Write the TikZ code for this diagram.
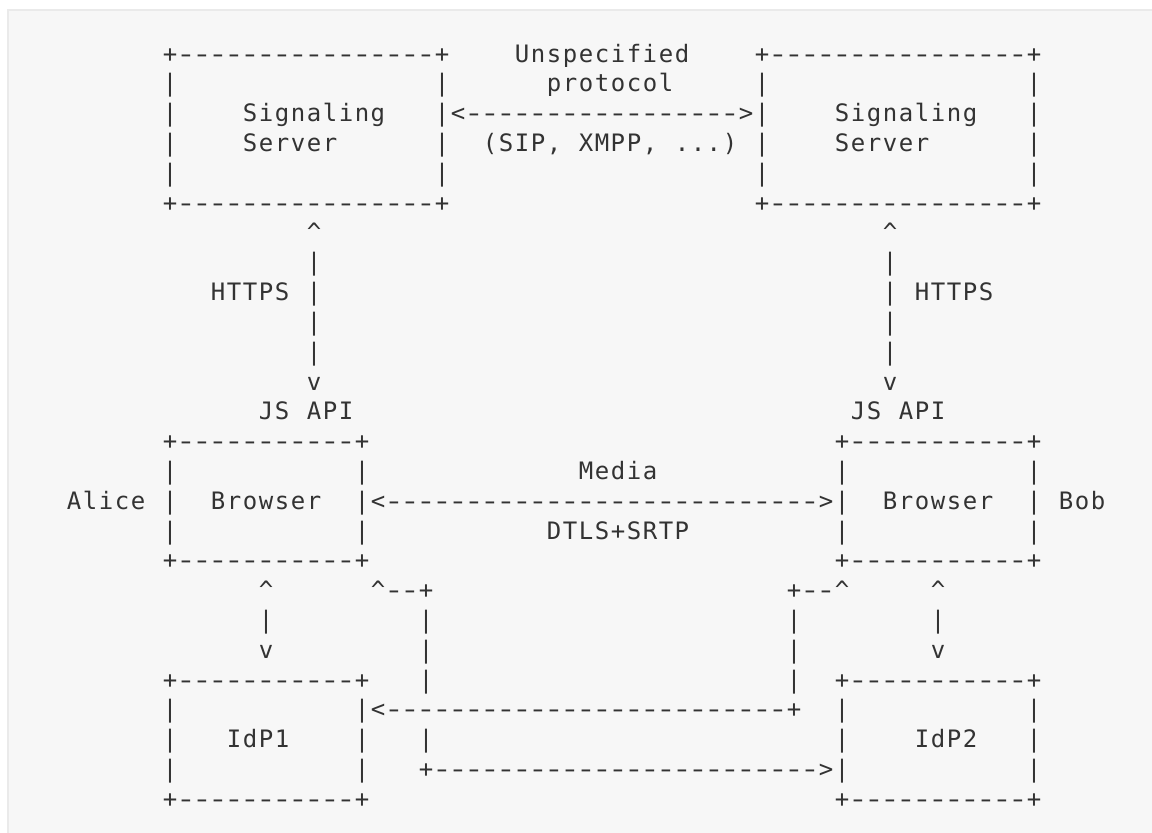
\documentclass[tikz,border=0pt]{standalone}
\usepackage{graphicx}
\usepackage{fontspec}
\newfontfamily\asciifont{DejaVu Sans Mono}

\definecolor{ink}{HTML}{333333}
\definecolor{panel}{HTML}{F7F7F7}
\definecolor{panelrule}{HTML}{EAEAEA}

% every character sits in a fixed 16pt cell, so the art keeps its grid;
% dashes are stretched a little so the box rules read as longer dashes
\newcommand\cellbox[1]{\makebox[16pt]{#1}}
\def\cellglyph#1{\ifx#1-\cellbox{\scalebox{1.4}[1]{-}}\else\cellbox{#1}\fi}
\def\cellrun#1{\ifx#1\relax\else\cellglyph{#1}\expandafter\cellrun\fi}
\newcommand\mono[1]{\cellrun#1\relax}
\newcommand\up{\textasciicircum}

\tikzset{
  txt/.style={anchor=base west, inner sep=0pt, outer sep=0pt, text=ink,
    font=\asciifont\fontsize{24pt}{29.81pt}\selectfont},
}

\begin{document}
\begin{tikzpicture}
\path[use as bounding box] (0pt,0pt) rectangle (1152pt,-833pt);
\fill[white] (0pt,0pt) rectangle (1152pt,-833pt);
\fill[panel] (7pt,-9pt) rectangle (1152pt,-833pt);
\draw[panelrule, line width=1.5pt] (7.75pt,-833pt) -- (7.75pt,-9.75pt) -- (1152pt,-9.75pt);

\begin{scope}[shift={(66pt,-62.1pt)}, x=16pt, y=-29.81pt]
  % signaling servers
  \node[txt] (sigLtop) at (6,0)  {\mono{+----------------+}};
  \node[txt] (sigRtop) at (43,0) {\mono{+----------------+}};
  \node[txt] (sigLbot) at (6,5)  {\mono{+----------------+}};
  \node[txt] (sigRbot) at (43,5) {\mono{+----------------+}};
  \foreach \r in {1,...,4} {
    \node[txt] (sigLl\r) at (6,\r)  {\mono{|}};
    \node[txt] (sigLr\r) at (23,\r) {\mono{|}};
    \node[txt] (sigRl\r) at (43,\r) {\mono{|}};
    \node[txt] (sigRr\r) at (60,\r) {\mono{|}};
  }
  \node[txt] (sigLa) at (11,2) {\mono{Signaling}};
  \node[txt] (sigLb) at (11,3) {\mono{Server}};
  \node[txt] (sigRa) at (48,2) {\mono{Signaling}};
  \node[txt] (sigRb) at (48,3) {\mono{Server}};

  % server to server link
  \node[txt] (proto1) at (28,0) {\mono{Unspecified}};
  \node[txt] (proto2) at (30,1) {\mono{protocol}};
  \node[txt] (sigarrow) at (24,2) {\mono{<----------------->}};
  \node[txt] (proto3) at (26,3) {\mono{(SIP,~XMPP,~...)}};

  % HTTPS links
  \node[txt] (hLup) at (15,6) {\mono{\up}};
  \node[txt] (hRup) at (51,6) {\mono{\up}};
  \foreach \r in {7,...,10} {
    \node[txt] (hL\r) at (15,\r) {\mono{|}};
    \node[txt] (hR\r) at (51,\r) {\mono{|}};
  }
  \node[txt] (hLdn) at (15,11) {\mono{v}};
  \node[txt] (hRdn) at (51,11) {\mono{v}};
  \node[txt] (httpsL) at (9,8)  {\mono{HTTPS}};
  \node[txt] (httpsR) at (53,8) {\mono{HTTPS}};
  \node[txt] (jsL) at (12,12) {\mono{JS~API}};
  \node[txt] (jsR) at (49,12) {\mono{JS~API}};

  % browsers
  \node[txt] (brLtop) at (6,13)  {\mono{+-----------+}};
  \node[txt] (brRtop) at (48,13) {\mono{+-----------+}};
  \node[txt] (brLbot) at (6,17)  {\mono{+-----------+}};
  \node[txt] (brRbot) at (48,17) {\mono{+-----------+}};
  \foreach \r in {14,15,16} {
    \node[txt] (brLl\r) at (6,\r)  {\mono{|}};
    \node[txt] (brLr\r) at (18,\r) {\mono{|}};
    \node[txt] (brRl\r) at (48,\r) {\mono{|}};
    \node[txt] (brRr\r) at (60,\r) {\mono{|}};
  }
  \node[txt] (brLtxt) at (9,15)  {\mono{Browser}};
  \node[txt] (brRtxt) at (51,15) {\mono{Browser}};
  \node[txt] (alice) at (0,15)  {\mono{Alice}};
  \node[txt] (bob)   at (62,15) {\mono{Bob}};

  % media path
  \node[txt] (media) at (32,14) {\mono{Media}};
  \node[txt] (mediaarrow) at (19,15) {\mono{<--------------------------->}};
  \node[txt] (dtls) at (30,16) {\mono{DTLS+SRTP}};

  % browser to IdP links
  \node[txt] (idLup)  at (12,18) {\mono{\up}};
  \node[txt] (idLbar) at (12,19) {\mono{|}};
  \node[txt] (idLdn)  at (12,20) {\mono{v}};
  \node[txt] (idRup)  at (54,18) {\mono{\up}};
  \node[txt] (idRbar) at (54,19) {\mono{|}};
  \node[txt] (idRdn)  at (54,20) {\mono{v}};

  % cross links between the two sides
  \node[txt] (asrtL) at (19,18) {\mono{\up--+}};
  \node[txt] (asrtR) at (45,18) {\mono{+--\up}};
  \foreach \r in {19,20,21} {
    \node[txt] (xL\r) at (22,\r) {\mono{|}};
    \node[txt] (xR\r) at (45,\r) {\mono{|}};
  }
  \node[txt] (retarrow) at (19,22) {\mono{<-------------------------+}};
  \node[txt] (xL23) at (22,23) {\mono{|}};
  \node[txt] (fwdarrow) at (22,24) {\mono{+------------------------>}};

  % identity providers
  \node[txt] (idpLtop) at (6,21)  {\mono{+-----------+}};
  \node[txt] (idpRtop) at (48,21) {\mono{+-----------+}};
  \node[txt] (idpLbot) at (6,25)  {\mono{+-----------+}};
  \node[txt] (idpRbot) at (48,25) {\mono{+-----------+}};
  \foreach \r in {22,23,24} {
    \node[txt] (idpLl\r) at (6,\r)  {\mono{|}};
    \node[txt] (idpLr\r) at (18,\r) {\mono{|}};
    \node[txt] (idpRl\r) at (48,\r) {\mono{|}};
    \node[txt] (idpRr\r) at (60,\r) {\mono{|}};
  }
  \node[txt] (idp1) at (10,23) {\mono{IdP1}};
  \node[txt] (idp2) at (53,23) {\mono{IdP2}};
\end{scope}
\end{tikzpicture}
\end{document}
